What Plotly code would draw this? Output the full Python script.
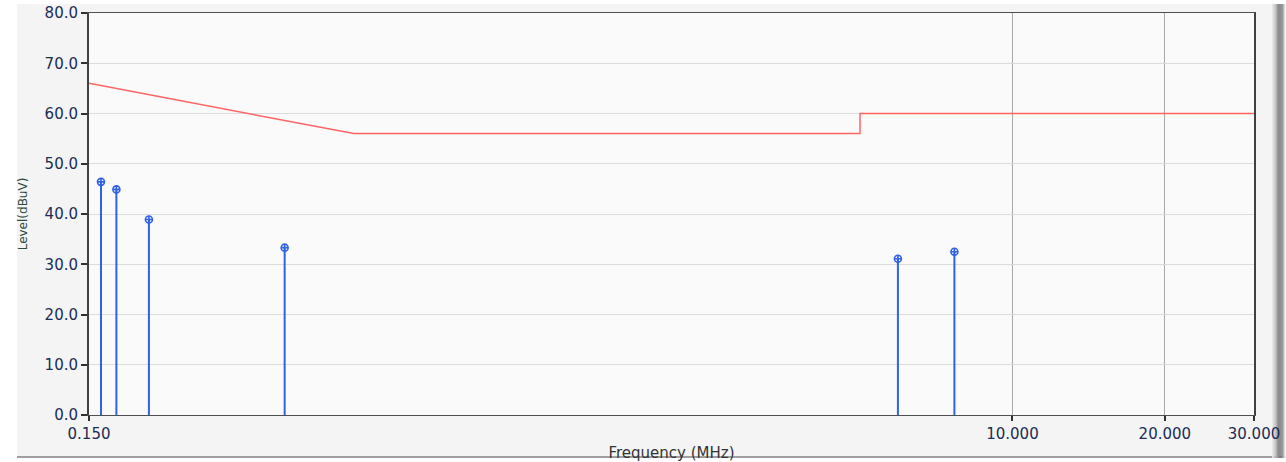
import plotly.graph_objects as go

# Measured peaks (frequency in MHz, level in dBuV)
peak_freq = [0.1584, 0.1699, 0.1970, 0.3652, 5.94, 7.68]
peak_level = [46.4, 44.9, 38.9, 33.3, 31.1, 32.5]

# Limit line (frequency in MHz, level in dBuV)
limit_freq = [0.15, 0.5, 5.0, 5.0, 30.0]
limit_level = [66.0, 56.0, 56.0, 60.0, 60.0]

y_ticks = [0, 10, 20, 30, 40, 50, 60, 70, 80]
x_ticks = [0.15, 10, 20, 30]
x_tick_text = ["0.150", "10.000", "20.000", "30.000"]

label_color = "#1a2d55"
tick_font = dict(family="DejaVu Sans", size=15, color=label_color)

fig = go.Figure()

fig.add_trace(go.Scatter(
    x=limit_freq, y=limit_level, mode="lines",
    line=dict(color="#ff6464", width=1.5),
    hoverinfo="skip", showlegend=False,
))

fig.add_trace(go.Scatter(
    x=peak_freq, y=peak_level, mode="markers",
    marker=dict(symbol="circle-cross-open", size=7, color="#2f62e6",
                line=dict(width=1.6, color="#2f62e6")),
    error_y=dict(type="data", symmetric=False, array=[0] * len(peak_level),
                 arrayminus=peak_level, color="#2f62e6", thickness=2, width=0),
    showlegend=False,
))

px_l, px_r = 89, 1254
px_t, px_b = 13, 415
span = px_r - px_l
vspan = px_b - px_t


def px_to_paper(px):
    return (px - px_l) / span


def py_to_paper(py):
    return (px_b - py) / vspan


shapes = [
    # white margin to the left of the panel
    dict(type="rect", xref="paper", yref="paper", x0=px_to_paper(-5), x1=px_to_paper(17),
         y0=py_to_paper(470), y1=py_to_paper(-5), fillcolor="white", line_width=0, layer="below"),
    # white strip along the top
    dict(type="rect", xref="paper", yref="paper", x0=px_to_paper(-5), x1=px_to_paper(1290),
         y0=py_to_paper(4), y1=py_to_paper(-5), fillcolor="white", line_width=0, layer="below"),
    # white strip under the panel
    dict(type="rect", xref="paper", yref="paper", x0=px_to_paper(-5), x1=px_to_paper(1290),
         y0=py_to_paper(470), y1=py_to_paper(458), fillcolor="white", line_width=0, layer="below"),
    # bottom border of the panel
    dict(type="line", xref="paper", yref="paper", x0=px_to_paper(17), x1=px_to_paper(1290),
         y0=py_to_paper(457), y1=py_to_paper(457), line=dict(color="#a0a0a0", width=2), layer="below"),
]

# right-hand shaded edge of the panel
shade = ["#e6e6e6", "#d6d6d6", "#c4c4c4", "#b0b0b0", "#9c9c9c", "#8a8a8a",
         "#7c7c7c", "#747474", "#8c8c8c", "#b4b4b4", "#dcdcdc", "#f4f4f4"]
for i, c in enumerate(shade):
    x0 = 1272 + i * 1.2
    shapes.append(dict(type="rect", xref="paper", yref="paper",
                       x0=px_to_paper(x0), x1=px_to_paper(x0 + 1.3),
                       y0=py_to_paper(458), y1=py_to_paper(4), fillcolor=c, line_width=0, layer="below"))

fig.update_layout(
    width=1286, height=462,
    margin=dict(l=89, r=32, t=13, b=47),
    paper_bgcolor="#f4f4f4",
    plot_bgcolor="#fafafa",
    shapes=shapes,
    xaxis=dict(
        type="log",
        range=[-0.8239, 1.4771],
        automargin=False,
        tickvals=x_ticks, ticktext=x_tick_text,
        ticks="outside", ticklen=5, tickwidth=2, tickcolor="#303030",
        tickfont=tick_font,
        showgrid=True, gridcolor="#a8a8a8", gridwidth=1,
        showline=True, linecolor="#505050", linewidth=1, mirror=True,
        zeroline=False,
        title=dict(text="Frequency (MHz)", font=dict(family="DejaVu Sans", size=15, color="#333333"),
                   standoff=10),
    ),
    yaxis=dict(
        range=[0, 80],
        automargin=False,
        tickvals=y_ticks, tickformat=".1f",
        ticks="outside", ticklen=6, tickwidth=2, tickcolor="#303030",
        tickfont=tick_font,
        showgrid=True, gridcolor="#dcdcdc", gridwidth=1,
        showline=True, linecolor="#404040", linewidth=2, mirror=True,
        zeroline=False,
        title=dict(text="Level(dBuV)", font=dict(family="DejaVu Sans", size=12, color="#2c4a3c"),
                   standoff=14),
    ),
)

fig.write_html("out.html")
